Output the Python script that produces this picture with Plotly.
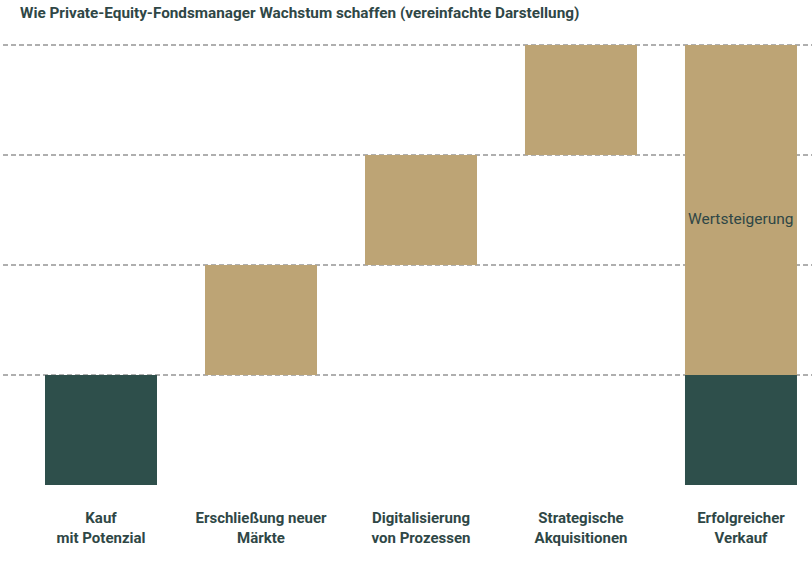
import plotly.graph_objects as go

categories = ["Kauf<br>mit Potenzial", "Erschließung neuer<br>Märkte", "Digitalisierung<br>von Prozessen",
              "Strategische<br>Akquisitionen", "Erfolgreicher<br>Verkauf"]
green_values = [1, 0, 0, 0, 1]       # purchase value (dark green)
tan_values = [0, 1, 1, 1, 3]         # value creation steps (tan)
tan_base = [0, 1, 2, 3, 1]
label_text = ["", "", "", "", "Wertsteigerung"]

GREEN = "#2E4F4B"
TAN = "#BDA475"
TEXT = "#2F4746"

fig = go.Figure()
fig.add_trace(go.Bar(
    x=categories, y=green_values, base=[0] * len(categories),
    marker=dict(color=GREEN, line=dict(width=0)), width=0.7, hoverinfo="skip",
))
fig.add_trace(go.Bar(
    x=categories, y=tan_values, base=tan_base,
    marker=dict(color=TAN, line=dict(width=0)), width=0.7, hoverinfo="skip",
))
fig.add_annotation(x=categories[4], y=2.42, text=label_text[4], showarrow=False,
                   font=dict(family="Roboto", size=15.5, color=TEXT))

fig.update_layout(
    width=812, height=570,
    margin=dict(l=3, r=0, t=40, b=85),
    barmode="overlay",
    showlegend=False,
    plot_bgcolor="white", paper_bgcolor="white",
    title=dict(text="<b>Wie Private-Equity-Fondsmanager Wachstum schaffen (vereinfachte Darstellung)</b>",
               x=20 / 812, xanchor="left", xref="container",
               y=1 - 13 / 570, yanchor="middle", yref="container",
               font=dict(family="Roboto", size=15.3, color=TEXT)),
    xaxis=dict(range=[-0.6125, 4.4438], showgrid=False, zeroline=False, showline=False,
               ticks="outside", ticklen=19, tickcolor="rgba(0,0,0,0)",
               tickfont=dict(family="Roboto", size=15, color=TEXT)),
    yaxis=dict(range=[0, 4.045], tickvals=[1, 2, 3, 4], showticklabels=False,
               showgrid=True, gridcolor="#AFAFAF", gridwidth=1.5, griddash="5px,3px",
               zeroline=False, showline=False),
)
fig.update_xaxes(tickprefix="<b>", ticksuffix="</b>")
fig.write_html("out.html", config={"displayModeBar": False},
               post_script="document.body.style.margin='0';")
